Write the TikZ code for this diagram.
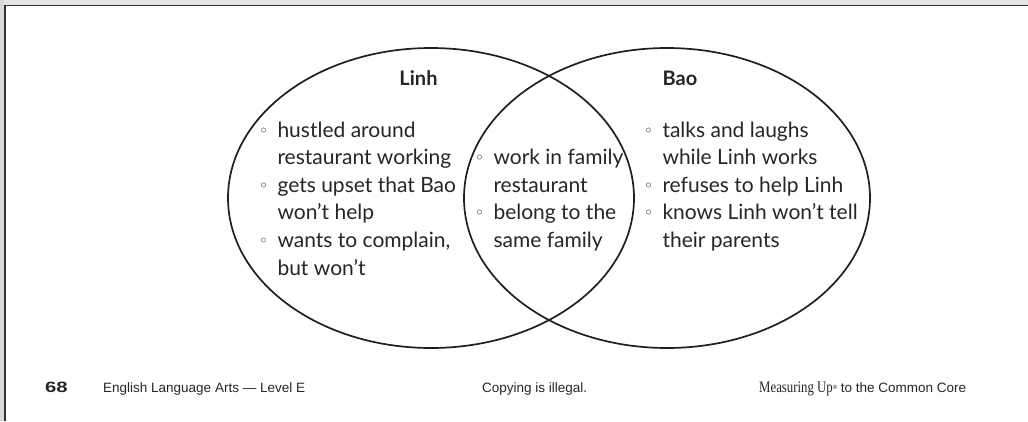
\documentclass[tikz,border=0pt]{standalone}
\usepackage{fontspec}
\setmainfont{Lato}
\newfontfamily\footfont{Liberation Sans}
\newfontfamily\footserif{Liberation Serif}
\newcommand{\bul}{\llap{\raisebox{4pt}{\fontsize{12}{12}\selectfont$\circ$}\hspace{11pt}}}
\begin{document}
\begin{tikzpicture}[x=1pt,y=-1pt,
  ring/.style={line width=1.7pt,draw=black!88},
  body/.style={anchor=base west,inner sep=0pt,text=black!85,font=\fontsize{21}{21}\selectfont},
  title/.style={anchor=base,inner sep=0pt,text=black!85,font=\fontsize{20}{20}\selectfont\bfseries},
  foot/.style={anchor=base west,inner sep=0pt,text=black!85,font=\fontsize{13.5}{13.5}\selectfont\footfont}]
\useasboundingbox (0,0) rectangle (1028,421);
\fill[white] (0,0) rectangle (1028,421);
% page frame strips
\fill[black!10] (0,0) rectangle (1028,4.8);
\fill[black!14] (0,0) rectangle (4.3,421);
\draw[line width=1.5pt,black!80] (4.3,5.6) -- (1028,5.6);
\draw[line width=1.5pt,black!80] (5,5) -- (5,421);
% ellipses
\draw[ring] (431,198) ellipse [x radius=203pt, y radius=150pt];
\draw[ring] (667,198) ellipse [x radius=203pt, y radius=150pt];
% titles
\node[title] (tl) at (418.5,85) {Linh};
\node[title] (tb) at (680,85) {Bao};
% left column
\node[body] (l1) at (277.3,137) {\bul hustled around};
\node[body] (l2) at (277.3,164.6) {restaurant working};
\node[body] (l3) at (277.3,192.2) {\bul gets upset that Bao};
\node[body] (l4) at (277.3,219.8) {won’t help};
\node[body] (l5) at (277.3,247.4) {\bul wants to complain,};
\node[body] (l6) at (277.3,275) {but won’t};
% middle column
\node[body] (m1) at (493.3,164.6) {\bul work in family};
\node[body] (m2) at (493.3,192.2) {restaurant};
\node[body] (m3) at (493.3,219.8) {\bul belong to the};
\node[body] (m4) at (493.3,247.4) {same family};
% right column
\node[body] (r1) at (662.3,137) {\bul talks and laughs};
\node[body] (r2) at (662.3,164.6) {while Linh works};
\node[body] (r3) at (662.3,192.2) {\bul refuses to help Linh};
\node[body] (r4) at (662.3,219.8) {\bul knows Linh won’t tell};
\node[body] (r5) at (662.3,247.4) {their parents};
% footer
\node[foot] (pg) at (45,392) {\scalebox{1.35}[1]{\fontsize{15}{15}\selectfont\bfseries 68}};
\node[foot] (f1) at (103,392) {English Language Arts — Level E};
\node[foot] (f2) at (482,392) {Copying is illegal.};
\node[foot] (f3) at (759,392) {\scalebox{0.8}[1]{\fontsize{16}{16}\selectfont\footserif Measuring Up}\raisebox{3pt}{\fontsize{6}{6}\selectfont®} to the Common Core};
\end{tikzpicture}
\end{document}
